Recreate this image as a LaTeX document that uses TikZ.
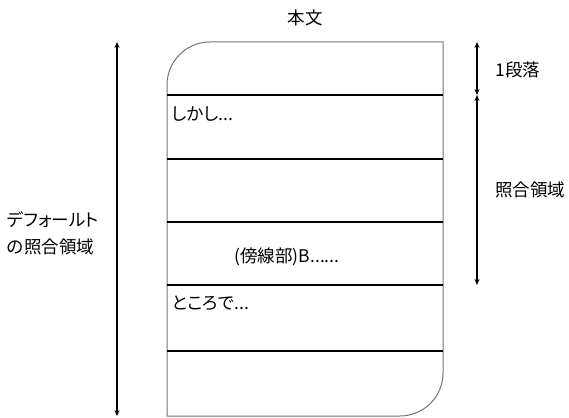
\documentclass[tikz,border=0pt]{standalone}
\usepackage{fontspec}
\setmainfont{Noto Sans CJK JP}[RawFeature=+palt]
\usetikzlibrary{arrows.meta}
\tikzset{
  boxline/.style={draw=black!55, line width=1pt},
  divline/.style={draw=black, line width=1.4pt},
  dimarrow/.style={draw=black, line width=1.3pt, {Stealth[length=6pt,width=5pt]}-{Stealth[length=6pt,width=5pt]}},
  lbl/.style={inner sep=0pt, font=\fontsize{17.5pt}{27pt}\selectfont}
}
\begin{document}
\begin{tikzpicture}[x=1pt,y=1pt]
\useasboundingbox (0,0) rectangle (569,417);
% box
\draw[boxline] (443,375) -- (210,375) arc[start angle=90,end angle=180,radius=43]
  -- (167,1) -- (400,1) arc[start angle=270,end angle=360,radius=43] -- cycle;
% dividers
\foreach \n/\y in {a/322,b/258,c/195,d/132,e/66}{
  \coordinate (L\n) at (167,\y);
  \coordinate (R\n) at (443,\y);
}
\draw[divline] (La) -- (Ra);
\draw[divline] (Lb) -- (Rb);
\draw[divline] (Lc) -- (Rc);
\draw[divline] (Ld) -- (Rd);
\draw[divline] (Le) -- (Re);
% arrows
\coordinate (lt) at (117,375);
\coordinate (lb) at (117,1);
\coordinate (rt) at (477,375);
\coordinate (rm) at (477,322);
\coordinate (rb) at (477,132);
\draw[dimarrow] (lt) -- (lb);
\draw[dimarrow] (rt) -- (rm);
\draw[dimarrow] (rm) -- (rb);
% labels
\node[lbl] (title) at (305,399) {本文};
\node[lbl] (para) at (518,347) {1段落};
\node[lbl] (match) at (530,227) {照合領域};
\node[lbl, align=left, anchor=west] (default) at (7,183.5) {デフォールト\\の照合領域};
\node[lbl, anchor=west] (t1) at (172,303) {しかし...};
\node[lbl] (t2) at (287,160) {(傍線部)B......};
\node[lbl, anchor=west] (t3) at (172,114) {ところで...};
\end{tikzpicture}
\end{document}
